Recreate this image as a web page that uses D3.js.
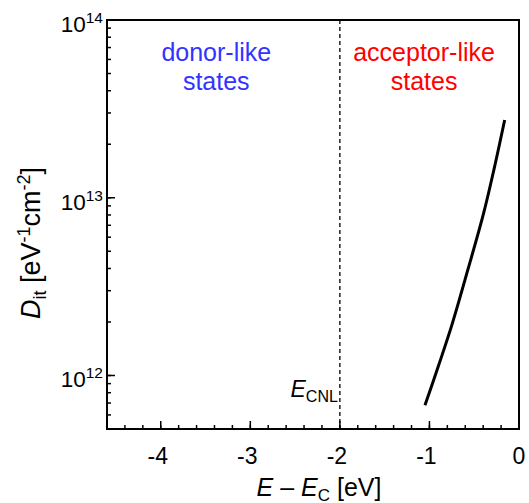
<!DOCTYPE html>
<html>
<head>
<meta charset="utf-8">
<script src="https://cdn.jsdelivr.net/npm/d3@7"></script>
<style>
  body { margin: 0; background: #fff; }
  text { font-family: "Liberation Sans", Arial, sans-serif; }
</style>
</head>
<body>
<div id="chart-area"></div>
<script>
// data
var energy = [-1.05, -0.90, -0.75, -0.57, -0.40, -0.28, -0.16];
var dit = [6.8e11, 1.13e12, 1.92e12, 3.95e12, 8.0e12, 1.44e13, 2.74e13];
var xTicks = [-4, -3, -2, -1, 0];
var yExponents = [12, 13, 14];
var eCNL = -2;
var regionLabels = [["donor-like", "states"], ["acceptor-like", "states"]];

var margin = { left: 107, right: 10, top: 20, bottom: 74 };
var width = 529 - margin.left - margin.right;
var height = 503 - margin.top - margin.bottom;

var svg = d3.select("#chart-area").append("svg")
    .attr("width", 529)
    .attr("height", 503);

var g = svg.append("g")
    .attr("transform", "translate(" + margin.left + ", " + margin.top + ")");

var x = d3.scaleLinear().domain([-4.6, 0]).range([0, width]);
var y = d3.scaleLog().domain([5e11, 1e14]).range([height, 0]);

// minor ticks
var xMinor = d3.range(-46, 1, 2).map(function(d) { return d / 10; });
var yMinor = [];
[11, 12, 13].forEach(function(e) {
    for (var m = 1; m < 10; m++) {
        var v = m * Math.pow(10, e);
        if (v >= 5e11 && v <= 1e14) yMinor.push(v);
    }
});

g.selectAll(".xminor").data(xMinor).enter().append("line")
    .attr("x1", function(d) { return x(d); })
    .attr("x2", function(d) { return x(d); })
    .attr("y1", height).attr("y2", height - 4)
    .attr("stroke", "black").attr("stroke-width", 1.5);

g.selectAll(".xmajor").data(xTicks).enter().append("line")
    .attr("x1", function(d) { return x(d); })
    .attr("x2", function(d) { return x(d); })
    .attr("y1", height).attr("y2", height - 8)
    .attr("stroke", "black").attr("stroke-width", 1.5);

g.selectAll(".yminor").data(yMinor).enter().append("line")
    .attr("x1", 0).attr("x2", 4)
    .attr("y1", function(d) { return y(d); })
    .attr("y2", function(d) { return y(d); })
    .attr("stroke", "black").attr("stroke-width", 1.5);

g.selectAll(".ymajor").data(yExponents).enter().append("line")
    .attr("x1", 0).attr("x2", 8)
    .attr("y1", function(d) { return y(Math.pow(10, d)); })
    .attr("y2", function(d) { return y(Math.pow(10, d)); })
    .attr("stroke", "black").attr("stroke-width", 1.5);

// frame
g.append("rect")
    .attr("x", 0).attr("y", 0)
    .attr("width", width).attr("height", height)
    .attr("fill", "none")
    .attr("stroke", "black")
    .attr("stroke-width", 2);

// tick labels
g.selectAll(".xlab").data(xTicks).enter().append("text")
    .attr("x", function(d) { return x(d) - (d < 0 ? 3 : 0); })
    .attr("y", height + 35)
    .attr("font-size", "23px")
    .attr("text-anchor", "middle")
    .text(function(d) { return d < 0 ? "-" + Math.abs(d) : d; });

var ylab = g.selectAll(".ylab").data(yExponents).enter().append("text")
    .attr("x", -4)
    .attr("y", function(d) { return y(Math.pow(10, d)) + 12; })
    .attr("font-size", "22.5px")
    .attr("text-anchor", "end");
ylab.append("tspan").text("10");
ylab.append("tspan")
    .attr("dy", -9)
    .attr("font-size", "15.5px")
    .text(function(d) { return d; });

// dashed E_CNL line
g.append("line")
    .attr("x1", x(eCNL)).attr("x2", x(eCNL))
    .attr("y1", 0).attr("y2", height)
    .attr("stroke", "black")
    .attr("stroke-width", 1.3)
    .attr("stroke-dasharray", "4,3");

var cnl = g.append("text")
    .attr("x", x(eCNL) - 2)
    .attr("y", 377)
    .attr("font-size", "23px")
    .attr("text-anchor", "end");
cnl.append("tspan").attr("font-style", "italic").text("E");
cnl.append("tspan").attr("dy", 5).attr("font-size", "16px").text("CNL");

// region labels
var regionX = [x(-3.38), x(-1.06)];
var regionColor = ["#3333ff", "#ff0000"];
regionLabels.forEach(function(lines, i) {
    lines.forEach(function(s, j) {
        g.append("text")
            .attr("x", regionX[i])
            .attr("y", 41 + j * 29)
            .attr("font-size", "25px")
            .attr("text-anchor", "middle")
            .attr("fill", regionColor[i])
            .text(s);
    });
});

// curve
var line = d3.line()
    .x(function(d, i) { return x(energy[i]); })
    .y(function(d) { return y(d); })
    .curve(d3.curveCatmullRom);

g.append("path")
    .datum(dit)
    .attr("d", line)
    .attr("fill", "none")
    .attr("stroke", "black")
    .attr("stroke-width", 3);

// axis labels
var xl = svg.append("text")
    .attr("x", 319)
    .attr("y", 496)
    .attr("font-size", "25px")
    .attr("text-anchor", "middle");
xl.append("tspan").attr("font-style", "italic").text("E");
xl.append("tspan").text(" \u2013 ");
xl.append("tspan").attr("font-style", "italic").text("E");
xl.append("tspan").attr("dy", 5).attr("font-size", "17px").text("C");
xl.append("tspan").attr("dy", -5).text(" [eV]");

var yl = svg.append("text")
    .attr("transform", "translate(40, 243) rotate(-90)")
    .attr("font-size", "27px")
    .attr("text-anchor", "middle");
yl.append("tspan").attr("font-style", "italic").text("D");
yl.append("tspan").attr("dy", 6).attr("font-size", "18px").text("it");
yl.append("tspan").attr("dy", -6).text(" [eV");
yl.append("tspan").attr("dy", -10).attr("font-size", "18px").text("-1");
yl.append("tspan").attr("dy", 10).text("cm");
yl.append("tspan").attr("dy", -10).attr("font-size", "18px").text("-2");
yl.append("tspan").attr("dy", 10).text("]");
</script>
</body>
</html>
